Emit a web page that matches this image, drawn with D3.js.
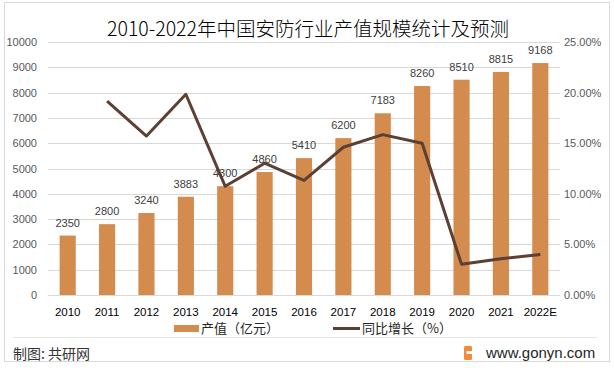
<!DOCTYPE html>
<html lang="zh">
<head>
<meta charset="UTF-8">
<title>2010-2022年中国安防行业产值规模统计及预测</title>
<script src="https://d3js.org/d3.v7.min.js"></script>
<style>
    body { margin: 0; background: #fff; }
    svg { display: block; font-family: "Noto Sans CJK SC", "Noto Sans", sans-serif; }
</style>
</head>
<body>
<svg id="chart" width="614" height="371"></svg>
<script>
    // 数据
    const years = ["2010", "2011", "2012", "2013", "2014", "2015", "2016", "2017", "2018", "2019", "2020", "2021", "2022E"];
    const output = [2350, 2800, 3240, 3883, 4300, 4860, 5410, 6200, 7183, 8260, 8510, 8815, 9168];
    const growth = [null, 19.15, 15.71, 19.84, 10.74, 13.02, 11.32, 14.60, 15.85, 14.99, 3.03, 3.58, 4.00];
    const leftTicks = [0, 1000, 2000, 3000, 4000, 5000, 6000, 7000, 8000, 9000, 10000];
    const rightTicks = [0, 5, 10, 15, 20, 25];

    const svg = d3.select("#chart");
    const plotL = 48, plotR = 560, plotT = 42, plotB = 295;

    // frame
    svg.append("rect")
        .attr("x", 4.5).attr("y", 2.5)
        .attr("width", 605).attr("height", 359)
        .attr("fill", "#fff").attr("stroke", "#d9d9d9");

    const x = d3.scaleBand().domain(years).range([plotL, plotR])
        .paddingInner(0.59).paddingOuter(0.295);
    const y = d3.scaleLinear().domain([0, 10000]).range([plotB, plotT]);
    const y2 = d3.scaleLinear().domain([0, 25]).range([plotB, plotT]);

    // gridlines
    svg.append("g").selectAll("line").data(leftTicks).join("line")
        .attr("x1", plotL).attr("x2", plotR)
        .attr("y1", d => Math.round(y(d)) + 0.5).attr("y2", d => Math.round(y(d)) + 0.5)
        .attr("stroke", "#d9d9d9");

    // left axis
    const yAxis = svg.append("g")
        .attr("transform", `translate(${plotL - 11},0)`)
        .call(d3.axisLeft(y).tickValues(leftTicks).tickSize(0).tickPadding(0).tickFormat(d3.format("d")));
    yAxis.select(".domain").remove();
    yAxis.selectAll("text").attr("fill", "#595959").style("font-size", "11px")
        .style("font-family", "'Liberation Sans', Arial, sans-serif");

    // right axis
    const y2Axis = svg.append("g")
        .attr("transform", `translate(${plotR + 4},0)`)
        .call(d3.axisRight(y2).tickValues(rightTicks).tickSize(0).tickPadding(0)
            .tickFormat(d => d.toFixed(2) + "%"));
    y2Axis.select(".domain").remove();
    y2Axis.selectAll("text").attr("fill", "#595959").style("font-size", "11px")
        .style("font-family", "'Liberation Sans', Arial, sans-serif");

    // bars
    svg.append("g").selectAll("rect").data(output).join("rect")
        .attr("x", (d, i) => x(years[i]))
        .attr("y", d => y(d))
        .attr("width", x.bandwidth())
        .attr("height", d => plotB - y(d))
        .attr("fill", "#d48b4e");

    // x axis
    const xAxis = svg.append("g")
        .attr("transform", `translate(0,${plotB})`)
        .call(d3.axisBottom(x).tickSize(0).tickPadding(13));
    xAxis.select(".domain").remove();
    xAxis.selectAll("text").attr("fill", "#000").style("font-size", "11.5px")
        .style("font-family", "'Liberation Sans', Arial, sans-serif");

    // growth line
    const line = d3.line()
        .defined(d => d != null)
        .x((d, i) => x(years[i]) + x.bandwidth() / 2)
        .y(d => y2(d));
    svg.append("path")
        .datum(growth)
        .attr("d", line)
        .attr("fill", "none")
        .attr("stroke", "#5c4033")
        .attr("stroke-width", 3)
        .attr("stroke-linejoin", "round");

    // bar labels (drawn over the line like the original)
    svg.append("g").selectAll("text").data(output).join("text")
        .attr("x", (d, i) => x(years[i]) + x.bandwidth() / 2)
        .attr("y", d => y(d) - 9)
        .attr("text-anchor", "middle")
        .attr("fill", "#404040")
        .style("font-size", "11px")
        .style("font-family", "'Liberation Sans', Arial, sans-serif")
        .text(d => d);

    // title
    svg.append("text")
        .attr("x", 308).attr("y", 36)
        .attr("text-anchor", "middle")
        .attr("fill", "#000")
        .style("font-size", "19.5px")
        .style("font-weight", 300)
        .text("2010-2022年中国安防行业产值规模统计及预测");

    // legend
    const lg = svg.append("g").style("font-size", "13px");
    lg.append("rect").attr("x", 174).attr("y", 325).attr("width", 25).attr("height", 7).attr("fill", "#d48b4e");
    lg.append("text").attr("x", 201).attr("y", 333).attr("fill", "#262626").text("产值（亿元）");
    lg.append("line").attr("x1", 333).attr("x2", 360).attr("y1", 328.5).attr("y2", 328.5)
        .attr("stroke", "#5c4033").attr("stroke-width", 3);
    lg.append("text").attr("x", 362).attr("y", 333).attr("fill", "#262626").text("同比增长（%）");

    // separator + footer
    svg.append("line").attr("x1", 13).attr("x2", 597).attr("y1", 337.5).attr("y2", 337.5)
        .attr("stroke", "#e6e6e6");
    svg.append("text").attr("x", 13).attr("y", 359).attr("fill", "#333")
        .style("font-size", "14px").text("制图: 共研网");

    // logo + site
    const logo = svg.append("g").attr("transform", "translate(464,346)");
    logo.append("rect").attr("width", 8).attr("height", 14).attr("rx", 1.5).attr("fill", "#f28a3c");
    logo.append("rect").attr("x", 2.5).attr("y", 5).attr("width", 5.5).attr("height", 3).attr("fill", "#fff");
    svg.append("text").attr("x", 486).attr("y", 358).attr("fill", "#262626")
        .style("font-size", "15px").style("font-family", "'Liberation Sans', Arial, sans-serif")
        .text("www.gonyn.com");
</script>
</body>
</html>
